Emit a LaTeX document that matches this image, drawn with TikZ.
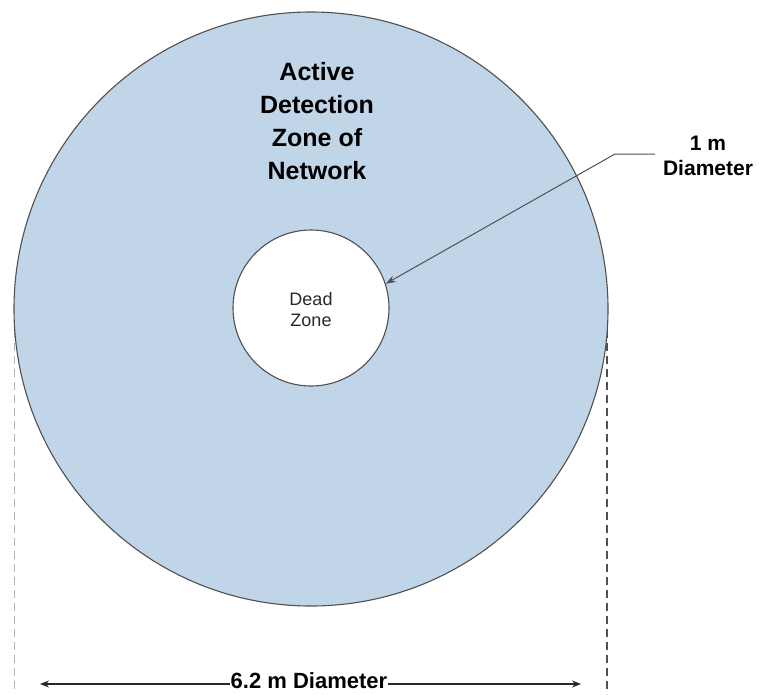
\documentclass[tikz,border=0pt]{standalone}
\usepackage{fontspec}
\setmainfont{Liberation Sans}
\usetikzlibrary{arrows.meta}
\definecolor{zoneblue}{RGB}{193,213,233}
\definecolor{rimgray}{RGB}{80,80,80}
\definecolor{inkgray}{RGB}{40,40,40}
\begin{document}
\begin{tikzpicture}[x=1pt,y=-1pt,
  zone/.style={circle,draw=rimgray,line width=1.1pt,inner sep=0pt},
  guide/.style={dashed,dash pattern=on 8pt off 5pt},
  dimline/.style={draw=inkgray,line width=1.1pt,-{Stealth[length=9pt,width=7pt]}},
  leader/.style={draw=rimgray,line width=1pt},
  boldlabel/.style={font=\bfseries\fontsize{21}{25}\selectfont,text=black,align=center,inner sep=0pt}]
  \useasboundingbox (0,0) rectangle (759,694);
  % side guides marking the outer diameter
  \draw[guide,draw=black!30,line width=0.9pt] (14,330) -- (14,694);
  \draw[guide,draw=rimgray,line width=1.4pt] (607,330) -- (607,694);
  % detection zone and dead zone
  \node[zone,fill=zoneblue,minimum size=594pt] (active) at (311,309) {};
  \node[zone,fill=white,minimum size=156pt] (dead) at (311,308) {};
  \node[font=\fontsize{18}{21}\selectfont,text=inkgray,align=center,inner sep=0pt] (deadtxt) at (311,310) {Dead\\Zone};
  \node[font=\bfseries\fontsize{25}{33}\selectfont,text=black,align=center,inner sep=0pt] (activetxt) at (317,121) {Active\\Detection\\Zone of\\Network};
  % inner diameter callout
  \node[boldlabel] (inner) at (708,156) {1 m\\Diameter};
  \coordinate (la) at (655,154);
  \coordinate (lb) at (615,154);
  \draw[leader,-{Stealth[length=10pt,width=7pt]}] (la) -- (lb) -- (dead.18.7);
  % outer diameter dimension
  \node[font=\bfseries\fontsize{22}{26}\selectfont,text=black,inner sep=1pt] (outer) at (309,681) {6.2 m Diameter};
  \coordinate (ll) at (40,684);
  \coordinate (rr) at (581,684);
  \draw[dimline] (outer.west |- ll) -- (ll);
  \draw[dimline] (outer.east |- rr) -- (rr);
\end{tikzpicture}
\end{document}
